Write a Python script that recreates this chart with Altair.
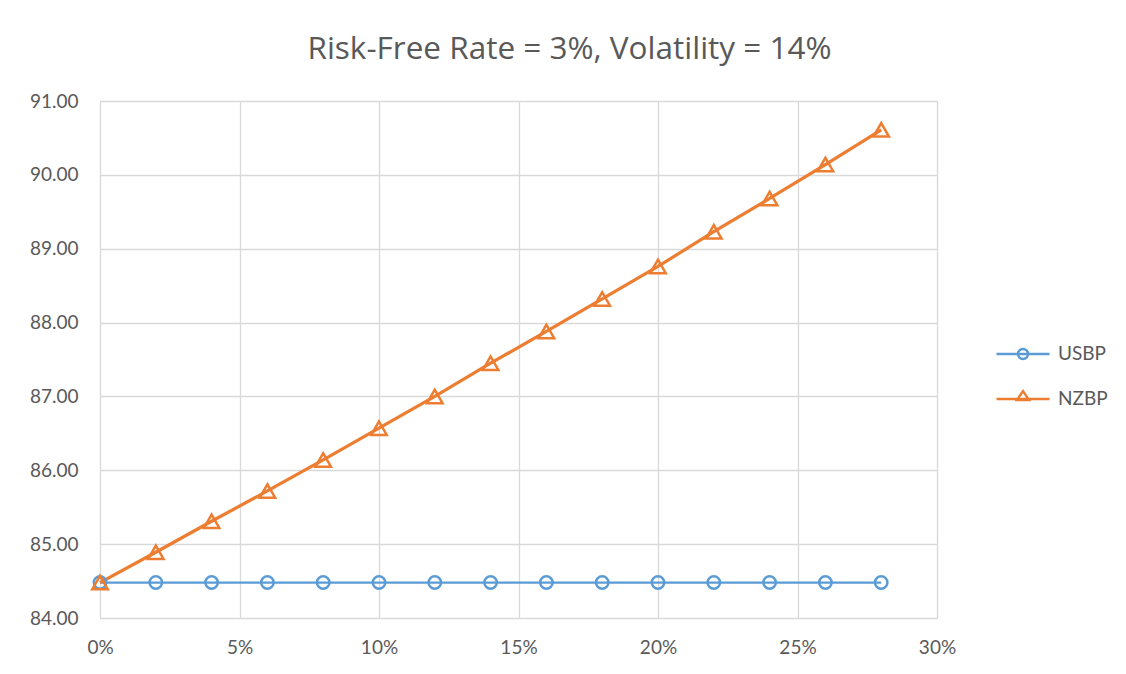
import altair as alt
import pandas as pd

x_vals = [0.00, 0.02, 0.04, 0.06, 0.08, 0.10, 0.12, 0.14, 0.16, 0.18, 0.20, 0.22, 0.24, 0.26, 0.28]
usbp = [84.48] * 15
nzbp = [84.48, 84.89, 85.31, 85.72, 86.14, 86.57, 87.00, 87.45, 87.88, 88.32, 88.76, 89.23, 89.68, 90.14, 90.61]
series_names = ["USBP", "NZBP"]
colors = ["#5B9BD5", "#ED7D31"]
y_ticks = [84, 85, 86, 87, 88, 89, 90, 91]
x_ticks = [0, 0.05, 0.10, 0.15, 0.20, 0.25, 0.30]

rows = []
for xv, u, n in zip(x_vals, usbp, nzbp):
    rows.append({"x": xv, "value": u, "series": "USBP"})
    rows.append({"x": xv, "value": n, "series": "NZBP"})
df = pd.DataFrame(rows)

FONT = "Lato"
TFONT = "Open Sans"
TXT = "#595959"
GRID = "#D9D9D9"

# legend glyphs: line with marker in the middle (path units in [-1, 1])
legend_paths = [
    "M-1,0H1M0.19,0A0.19,0.19,0,1,1,-0.19,0A0.19,0.19,0,1,1,0.19,0",
    "M-1,0H1M0.23,0.04L0,-0.3L-0.23,0.04Z",
]

xenc = alt.X("x:Q", scale=alt.Scale(domain=[0, 0.30], nice=False, zero=False),
             axis=alt.Axis(values=x_ticks, format=".0%", title=None, grid=True, gridColor=GRID,
                           gridWidth=1.3, domain=False, ticks=False, labelPadding=20,
                           labelFlush=False, labelOverlap=False,
                           labelFontSize=19, labelColor=TXT, labelFont=FONT))
yenc = alt.Y("value:Q", scale=alt.Scale(domain=[84, 91], nice=False, zero=False),
             axis=alt.Axis(values=y_ticks, format=".2f", title=None, grid=True, gridColor=GRID,
                           gridWidth=1.3, domain=False, ticks=False, labelPadding=22,
                           labelFlush=False, labelOverlap=False,
                           labelFontSize=19, labelColor=TXT, labelFont=FONT))

color_scale = alt.Scale(domain=series_names, range=colors)

line = alt.Chart(df).mark_line().encode(
    x=xenc, y=yenc,
    color=alt.Color("series:N", scale=color_scale, legend=None),
    strokeWidth=alt.StrokeWidth("series:N", scale=alt.Scale(domain=series_names, range=[2.2, 3.2]),
                                legend=None),
    detail="series:N",
)

points = alt.Chart(df).mark_point(filled=False, strokeWidth=2.5, opacity=1).encode(
    x=xenc, y=yenc,
    color=alt.Color("series:N", scale=color_scale, legend=None),
    shape=alt.Shape("series:N", scale=alt.Scale(domain=series_names, range=["circle", "triangle-up"]),
                    legend=None),
    size=alt.Size("series:N", scale=alt.Scale(domain=series_names, range=[155, 240]), legend=None),
)

legend_common = dict(orient="none", legendX=895, legendY=225, title=None, rowPadding=7,
                     labelFontSize=19, labelFont=FONT, labelColor=TXT, labelOffset=7,
                     symbolSize=2809, symbolStrokeWidth=2.4, symbolFillColor="transparent")

legend_layer = alt.Chart(df).transform_filter("false").mark_point(filled=False, opacity=1).encode(
    x=xenc, y=yenc,
    color=alt.Color("series:N", sort=series_names, scale=color_scale,
                    legend=alt.Legend(**legend_common)),
    shape=alt.Shape("series:N", sort=series_names,
                    scale=alt.Scale(domain=series_names, range=legend_paths),
                    legend=alt.Legend(**legend_common)),
)

chart = alt.layer(line, points, legend_layer).resolve_scale(
    color="independent", shape="independent"
).properties(
    width=837, height=517,
    autosize=alt.AutoSizeParams(type="none"),
    padding={"left": 92, "top": 93, "right": 175, "bottom": 44},
    title=alt.TitleParams("Risk-Free Rate = 3%, Volatility = 14%", fontSize=31.5, font=TFONT,
                          color=TXT, fontWeight="normal", offset=27, dx=51, anchor="middle"),
).configure_view(stroke=None).configure(background="white")

chart.save("out.html", embed_options={"renderer": "svg", "actions": False})
